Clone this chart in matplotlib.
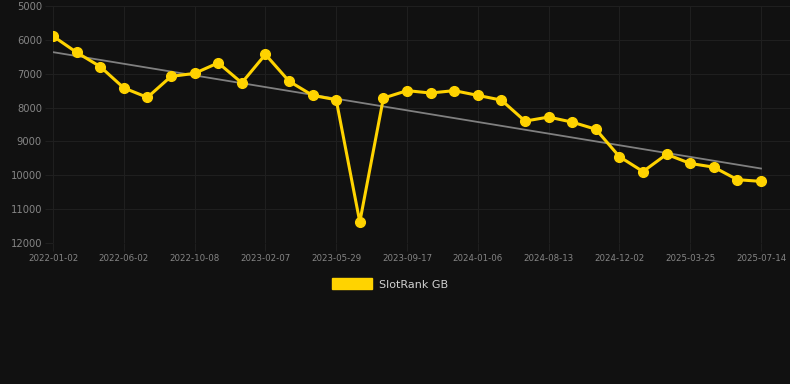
import numpy as np
import matplotlib
matplotlib.use('Agg')
import matplotlib.pyplot as plt
from matplotlib.patches import Patch

# rank values, one per period (lower is better -> axis inverted)
rank = [5890, 6370, 6790, 7420, 7700, 7080, 6990, 6680, 7270, 6430,
        7220, 7640, 7770, 11380, 7720, 7500, 7570, 7500, 7640, 7780,
        8400, 8280, 8430, 8640, 9450, 9890, 9380, 9650, 9760, 10130,
        10180]
tick_labels = ['2022-01-02', '2022-06-02', '2022-10-08', '2023-02-07',
               '2023-05-29', '2023-09-17', '2024-01-06', '2024-08-13',
               '2024-12-02', '2025-03-25', '2025-07-14']
y_ticks = [5000, 6000, 7000, 8000, 9000, 10000, 11000, 12000]
series_name = 'SlotRank GB'

bg = '#111111'
yellow = '#FFD300'
grid_c = '#1f1f1f'

x = np.arange(len(rank))
coef = np.polyfit(x, rank, 1)
trend = np.polyval(coef, x)

fig = plt.figure(figsize=(7.9, 3.84), dpi=100, facecolor=bg)
ax = fig.add_axes([53/790, 1 - 243/384, (790 - 53)/790, (243 - 6)/384])
ax.set_facecolor(bg)

ax.plot(x, trend, color='#808080', lw=1.3, zorder=2)
ax.plot(x, rank, color=yellow, lw=2.2, marker='o', ms=7, zorder=3)

ax.set_xlim(0, 30 + 29/23.6)
ax.set_ylim(12000, 5000)
ax.set_yticks(y_ticks)
ax.set_yticklabels([str(v) for v in y_ticks])
ax.set_xticks(x[::3])
ax.set_xticklabels(tick_labels)

ax.grid(True, color=grid_c, lw=0.8)
ax.set_axisbelow(True)
for s in ax.spines.values():
    s.set_visible(False)
ax.tick_params(axis='y', colors=grid_c, labelcolor='#858585', labelsize=7.2,
               length=6, width=0.8, pad=2)
ax.tick_params(axis='x', colors=grid_c, labelcolor='#858585', labelsize=6.2,
               length=6, width=0.8, pad=2)

fig.legend(handles=[Patch(color=yellow, label=series_name)], loc='center',
           bbox_to_anchor=(390/790, 1 - 284/384), frameon=False,
           fontsize=8, labelcolor='#d0d0d0', handlelength=3.6,
           handleheight=1.1, handletextpad=0.6)

plt.savefig('out.png', dpi=100, facecolor=bg)
plt.close()
